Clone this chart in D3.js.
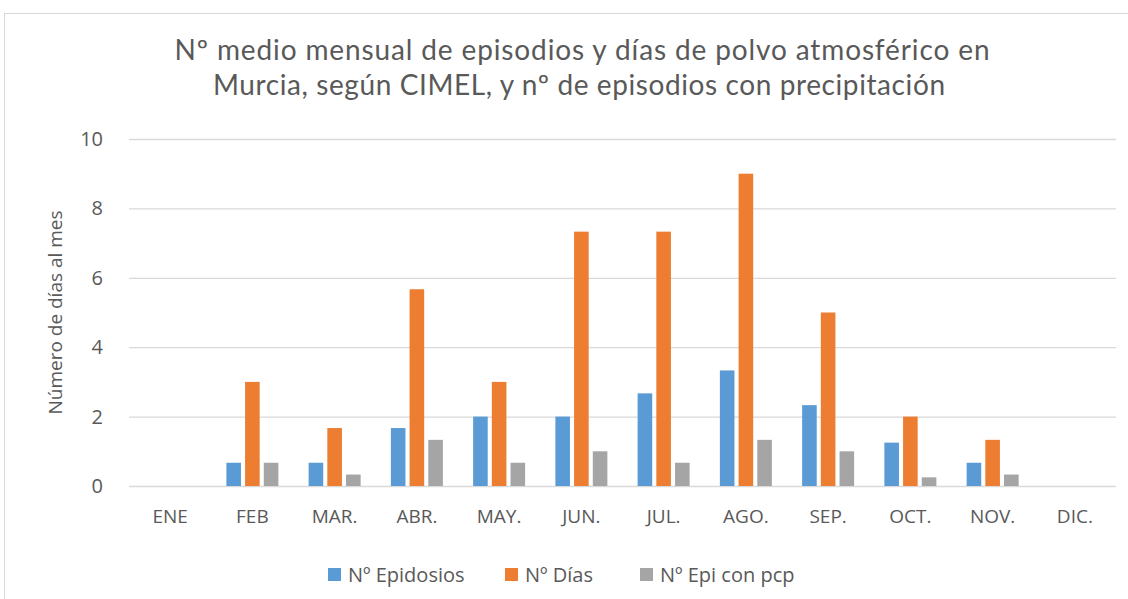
<!DOCTYPE html>
<html>
<head>
<meta charset="utf-8">
<script src="https://cdn.jsdelivr.net/npm/d3@7"></script>
<style>
body{margin:0;background:#fff;}
text{fill:#595959;}
</style>
</head>
<body>
<div id="chart"></div>
<script>
// datos
var meses = ["ENE","FEB","MAR.","ABR.","MAY.","JUN.","JUL.","AGO.","SEP.","OCT.","NOV.","DIC."];
var episodios = [0, 0.67, 0.67, 1.67, 2, 2, 2.67, 3.33, 2.33, 1.25, 0.67, 0];
var dias = [0, 3, 1.67, 5.67, 3, 7.33, 7.33, 9, 5, 2, 1.33, 0];
var epiPcp = [0, 0.67, 0.33, 1.33, 0.67, 1, 0.67, 1.33, 1, 0.25, 0.33, 0];
var yTicks = [0, 2, 4, 6, 8, 10];
var seriesNames = ["Nº Epidosios", "Nº Días", "Nº Epi con pcp"];
var colores = ["#5B9BD5", "#ED7D31", "#A5A5A5"];

var series = [episodios, dias, epiPcp];

var svg = d3.select("#chart").append("svg").attr("width",1128).attr("height",599);
svg.append("rect").attr("x",4.5).attr("y",13.5).attr("width",1130).attr("height",600)
	.attr("fill","none").attr("stroke","#D9D9D9");

var mLeft = 129, mRight = 1116, mTop = 139, mBottom = 486;

var x = d3.scaleBand().domain(meses).range([mLeft,mRight]).paddingInner(0).paddingOuter(0);
var xs = d3.scaleBand().domain([0,1,2]).range([0, 52]).paddingInner(0.22);
var y = d3.scaleLinear().domain([0,10]).range([mBottom,mTop]);

// titulo
svg.append("text").attr("x",582).attr("y",60).attr("text-anchor","middle")
	.attr("font-family","Lato, sans-serif").attr("font-size","28px")
	.attr("textLength",815).attr("lengthAdjust","spacing")
	.text("Nº medio mensual de episodios y días de polvo atmosférico en");
svg.append("text").attr("x",579).attr("y",95).attr("text-anchor","middle")
	.attr("font-family","Lato, sans-serif").attr("font-size","28px")
	.attr("textLength",732).attr("lengthAdjust","spacing")
	.text("Murcia, según CIMEL, y nº de episodios con precipitación");

// rejilla y eje y
var yAxis = d3.axisLeft(y).tickValues(yTicks).tickSize(-(mRight-mLeft)).tickFormat(d3.format("d"));
var gy = svg.append("g").attr("transform","translate("+mLeft+",0)").call(yAxis);
gy.select(".domain").remove();
gy.selectAll(".tick line").attr("stroke","#D9D9D9").attr("stroke-width",1.3);
gy.selectAll(".tick text").attr("x",-26).attr("font-family","Open Sans, sans-serif").attr("font-size","20px").attr("fill","#595959");

// eje x
var xAxis = d3.axisBottom(x).tickSize(0).tickPadding(24);
var gx = svg.append("g").attr("transform","translate(0,"+mBottom+")").call(xAxis);
gx.select(".domain").remove();
gx.selectAll(".tick text").attr("font-family","Open Sans, sans-serif").attr("font-size","19px").attr("fill","#595959");

// barras
var offset = (x.bandwidth() - 52) / 2;
series.forEach(function(vals, s){
	svg.append("g").selectAll("rect").data(vals).enter().append("rect")
		.attr("x", function(d,i){ return x(meses[i]) + offset + xs(s); })
		.attr("y", function(d){ return y(d); })
		.attr("width", xs.bandwidth())
		.attr("height", function(d){ return mBottom - y(d); })
		.attr("fill", colores[s]);
});

// titulo eje y
svg.append("text").attr("transform","translate(62,"+((mTop+mBottom)/2)+") rotate(-90)")
	.attr("text-anchor","middle").attr("font-family","Open Sans, sans-serif").attr("font-size","19px")
	.text("Número de días al mes");

// leyenda
var legX = [328, 505, 640];
seriesNames.forEach(function(n, i){
	svg.append("rect").attr("x",legX[i]).attr("y",568).attr("width",13).attr("height",13).attr("fill",colores[i]);
	svg.append("text").attr("x",legX[i]+20).attr("y",582).attr("font-family","Open Sans, sans-serif")
		.attr("font-size","20px").text(n);
});
</script>
</body>
</html>
